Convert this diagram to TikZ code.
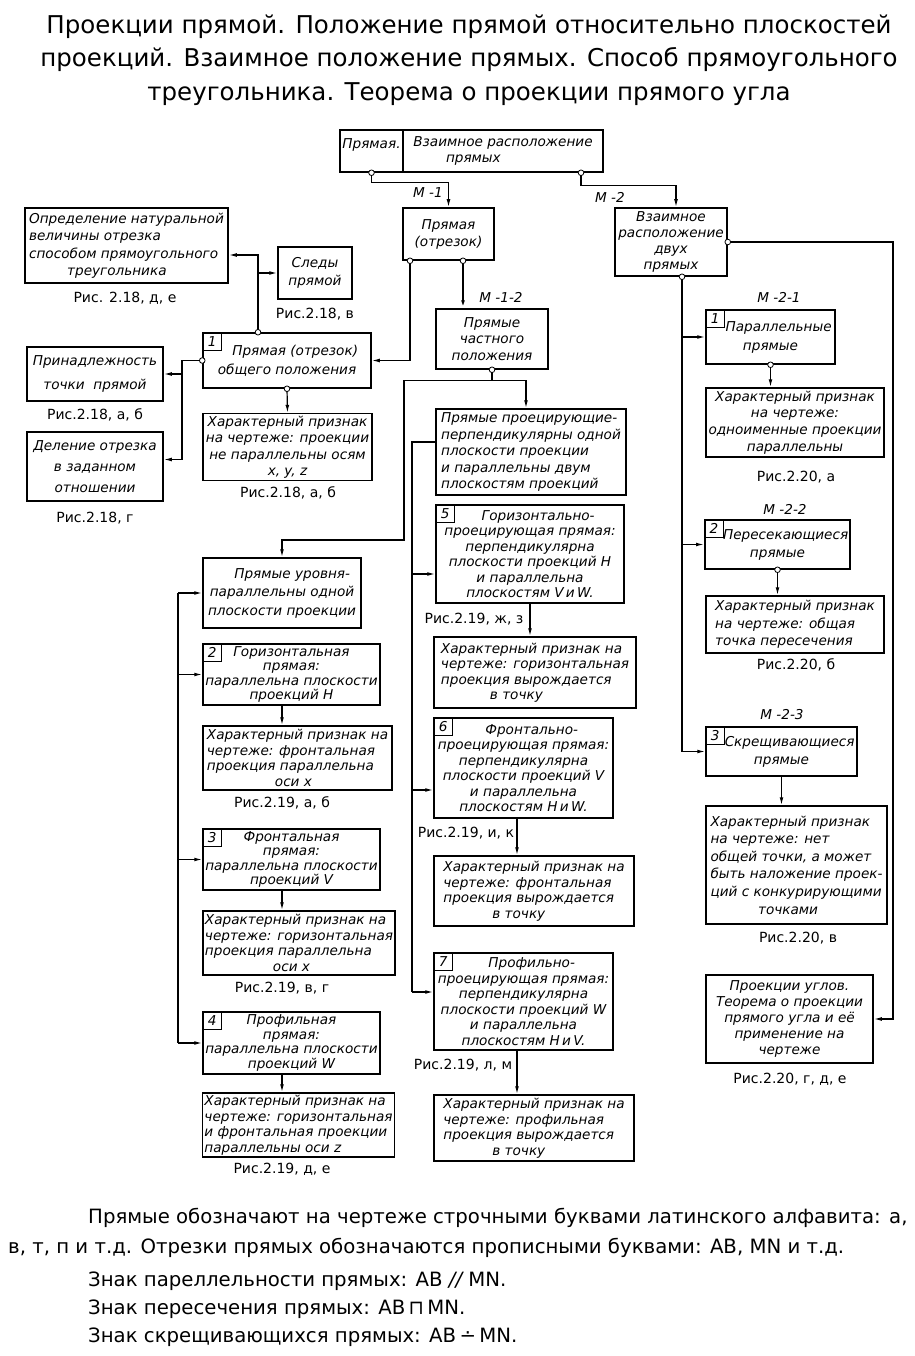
\documentclass[tikz,border=0pt]{standalone}
\usepackage{fontspec}
\setmainfont{DejaVu Sans}
\usetikzlibrary{arrows.meta,positioning,calc}

\newcommand\boxfont{\itshape\fontsize{13.6}{15.5}\selectfont}
\newcommand\capfont{\fontsize{14}{16}\selectfont}

\tikzset{
  blk/.style={draw, line width=1.5pt, inner sep=2pt, font=\boxfont, align=center},
  sz/.style 2 args={minimum width=#1, minimum height=#2},
  ls/.style={font=\itshape\fontsize{13.6}{#1}\selectfont},
  numbox/.style={draw, line width=1pt, anchor=north west, minimum width=19, minimum height=18, inner sep=0pt, font=\boxfont},
  ln/.style={line width=1.2pt},
  arr/.style={ln, -{Latex[length=8pt,width=3.8pt]}},
  capt/.style={font=\capfont},
  mlab/.style={font=\boxfont},
  note/.style={anchor=west, inner sep=0pt, font=\fontsize{19.7}{21}\selectfont},
}

\begin{document}
\begin{tikzpicture}[x=1pt,y=-1pt]
\useasboundingbox (0,0) rectangle (914,1356);
%\draw[very thin,gray,step=50] (0,0) grid (914,1356);
\node[align=center, font=\fontsize{24.5}{33.5}\selectfont] (title) at (469,60)
  {Проекции прямой. Положение прямой относительно плоскостей\\
   проекций. Взаимное положение прямых. Способ прямоугольного\\
   треугольника. Теорема о проекции прямого угла};

% top
\node[blk, sz={63}{42}] (topa) at (371.5,151) {Прямая.\\~};
\node[blk, sz={200}{42}, align=left] (topb) at (503,151) {Взаимное расположение\\\hspace*{2.4em}прямых};
\node[blk, sz={91}{52}, ls=17] (pr) at (448.5,234) {Прямая\\(отрезок)};
\node[blk, sz={112}{68}, ls=16] (vz) at (671,242) {Взаимное\\расположение\\двух\\прямых};
\node[mlab] (lm1) at (428,193) {М -1};
\node[mlab] (lm2) at (610,197) {М -2};

% left part
\node[blk, sz={203}{75}, align=left, ls=17.5] (opr) at (126.5,245.5)
  {Определение натуральной\\величины отрезка\\способом прямоугольного\\\hspace*{2.8em}треугольника};
\node[capt] (capopr) at (125,298) {Рис. 2.18, д, е};
\node[blk, sz={74}{52}, ls=18] (sl) at (315,273) {Следы\\прямой};
\node[capt] (capsl) at (315,314) {Рис.2.18, в};
\node[blk, sz={168}{55}, ls=19] (b1) at (287,360.5) {\hspace*{1.2em}Прямая (отрезок)\\общего положения};
\node[numbox] (n1) at (b1.north west) {1};
\node[blk, sz={169}{62}, ls=16.5] (c1) at (287.5,447) {Характерный признак\\на чертеже: проекции\\не параллельны осям\\x, y, z};
\node[capt] (capc1) at (288,493) {Рис.2.18, а, б};
\node[blk, sz={136}{54}, ls=24] (pn) at (95,374) {Принадлежность\\точки\ \ прямой};
\node[capt] (cappn) at (95,415) {Рис.2.18, а, б};
\node[blk, sz={136}{69}, ls=21] (dl) at (95,466.5) {Деление отрезка\\в заданном\\отношении};
\node[capt] (capdl) at (95,518) {Рис.2.18, г};

% particular positions
\node[blk, sz={112}{60}, ls=16.5] (chp) at (492,339) {Прямые\\частного\\положения};
\node[mlab] (lm12) at (501,297) {М -1-2};
\node[blk, sz={190}{86}, align=left, ls=16.5] (pp) at (531,452)
  {Прямые проецирующие-\\перпендикулярны одной\\плоскости проекции\\и параллельны двум\\плоскостям проекций};
\node[blk, sz={188}{98}] (b5) at (530,554)
  {\hspace*{1.2em}Горизонтально-\\проецирующая прямая:\\перпендикулярна\\плоскости проекций H\\и параллельна\\плоскостям V\,и\,W.};
\node[numbox] (n5) at (b5.north west) {5};
\node[capt] (cap5) at (474,619) {Рис.2.19, ж, з};
\node[blk, sz={202}{71}, align=left] (c5) at (535,672.5)
  {Характерный признак на\\чертеже: горизонтальная\\проекция вырождается\\\hspace*{3.6em}в точку};
\node[blk, sz={179}{100}] (b6) at (523.5,768)
  {\hspace*{1.2em}Фронтально-\\проецирующая прямая:\\перпендикулярна\\плоскости проекций V\\и параллельна\\плоскостям H\,и\,W.};
\node[numbox] (n6) at (b6.north west) {6};
\node[capt] (cap6) at (466,833) {Рис.2.19, и, к};
\node[blk, sz={200}{70}, align=left] (c6) at (534,891)
  {Характерный признак на\\чертеже: фронтальная\\проекция вырождается\\\hspace*{3.6em}в точку};
\node[blk, sz={179}{97}] (b7) at (523.5,1001.5)
  {\hspace*{1.2em}Профильно-\\проецирующая прямая:\\перпендикулярна\\плоскости проекций W\\и параллельна\\плоскостям H\,и\,V.};
\node[numbox] (n7) at (b7.north west) {7};
\node[capt] (cap7) at (463,1065) {Рис.2.19, л, м};
\node[blk, sz={200}{66}, align=left] (c7) at (534,1128)
  {Характерный признак на\\чертеже: профильная\\проекция вырождается\\\hspace*{3.6em}в точку};

% level lines
\node[blk, sz={158}{70}, ls=18.5] (ur) at (282,593) {\hspace*{1.5em}Прямые уровня-\\параллельны одной\\плоскости проекции};
\node[blk, sz={177}{61}, ls=14.5] (b2) at (291.5,674.5) {Горизонтальная\\прямая:\\параллельна плоскости\\проекций H};
\node[numbox] (n2) at (b2.north west) {2};
\node[blk, sz={189}{64}, align=left] (c2) at (297.5,758)
  {Характерный признак на\\чертеже: фронтальная\\проекция параллельна\\\hspace*{5em}оси x};
\node[capt] (capc2) at (282,803) {Рис.2.19, а, б};
\node[blk, sz={177}{61}, ls=14.5] (b3) at (291.5,859.5) {Фронтальная\\прямая:\\параллельна плоскости\\проекций V};
\node[numbox] (n3) at (b3.north west) {3};
\node[blk, sz={192}{64}, align=left] (c3) at (299,943)
  {Характерный признак на\\чертеже: горизонтальная\\проекция параллельна\\\hspace*{5em}оси x};
\node[capt] (capc3) at (282,988) {Рис.2.19, в, г};
\node[blk, sz={177}{62}, ls=14.5] (b4) at (291.5,1043) {Профильная\\прямая:\\параллельна плоскости\\проекций W};
\node[numbox] (n4) at (b4.north west) {4};
\node[blk, sz={191}{64}, align=left] (c4) at (298.5,1125)
  {Характерный признак на\\чертеже: горизонтальная\\и фронтальная проекции\\параллельны оси z};
\node[capt] (capc4) at (282,1169) {Рис.2.19, д, е};

% mutual position
\node[mlab] (lm21) at (779,297) {М -2-1};
\node[blk, sz={129}{54}, ls=19] (rb1) at (770.5,337) {\hspace*{1.2em}Параллельные\\прямые};
\node[numbox] (m1) at (rb1.north west) {1};
\node[blk, sz={178}{69}, ls=16.7] (rc1) at (795,422.5) {Характерный признак\\на чертеже:\\одноименные проекции\\параллельны};
\node[capt] (caprc1) at (796,477) {Рис.2.20, а};
\node[mlab] (lm22) at (785,509) {М -2-2};
\node[blk, sz={143}{49}, ls=18] (rb2) at (777.5,544.5) {\hspace*{1.2em}Пересекающиеся\\прямые};
\node[numbox] (m2) at (rb2.north west) {2};
\node[blk, sz={178}{57}, align=left, ls=17.5] (rc2) at (795,624.5) {Характерный признак\\на чертеже: общая\\точка пересечения};
\node[capt] (caprc2) at (796,665) {Рис.2.20, б};
\node[mlab] (lm23) at (782,715) {М -2-3};
\node[blk, sz={151}{49}, ls=18] (rb3) at (781.5,751.5) {\hspace*{1.2em}Скрещивающиеся\\прямые};
\node[numbox] (m3) at (rb3.north west) {3};
\node[blk, sz={181}{118}, align=left, ls=17.6] (rc3) at (796.5,865)
  {Характерный признак\\на чертеже: нет\\общей точки, а может\\быть наложение проек-\\ций с конкурирующими\\\hspace*{3.5em}точками};
\node[capt] (caprc3) at (798,938) {Рис.2.20, в};
\node[blk, sz={167}{88}, ls=16] (ug) at (789.5,1019) {Проекции углов.\\Теорема о проекции\\прямого угла и её\\применение на\\чертеже};
\node[capt] (capug) at (790,1079) {Рис.2.20, г, д, е};

% connectors
\coordinate (o1) at (topa.south);
\coordinate (o2) at (topb.south -| 581,0);
\coordinate (o3) at (pr.south -| 410,0);
\coordinate (o4) at (pr.south -| 463,0);
\coordinate (o5) at (b1.north -| 258,0);
\coordinate (o6) at (vz.south -| 682,0);
\draw[arr] (o1) -- ++(0,10) -| (pr.north);
\draw[arr] (o2) -- ++(0,13) -| ([xshift=5pt]vz.north);
\draw[arr] (o3) |- (b1.east);
\draw[arr, line width=2.4pt] (o4) -- (chp.north -| o4);
\coordinate (ko) at (258,255);
\draw[arr] (o5) -- (ko) -- (ko -| opr.east);
\draw[arr] (o5) |- (sl.west);
\coordinate (kp) at (182,0);
\coordinate (ad) at ([yshift=7pt]dl.east);
\draw[arr] (b1.west) -| (kp |- pn.east) -- (pn.east);
\draw[arr] (b1.west) -| (kp |- ad) -- (ad);
\draw[arr] (b1.south) -- (c1.north);
\coordinate (kn) at (404,540);
\draw[arr] (chp.south) -- ++(0,11) -| (kn) -| (ur.north);
\draw[arr] (chp.south) -- ++(0,11) -| ([xshift=-5pt]pp.north);

% left bus
\coordinate (lbus) at (178,0);
\draw[ln] (lbus |- ur.west) -- (lbus |- b4.west);
\foreach \n in {ur,b2,b3,b4}
  \draw[arr] (lbus |- \n.west) -- (\n.west);
\foreach \a/\b in {b2/c2,b3/c3,b4/c4}
  \draw[arr] (\a.south -| ur.south) -- (\b.north -| ur.south);

% middle bus
\coordinate (mbus) at (412,0);
\coordinate (a0) at ([yshift=10pt]pp.west);
\coordinate (a5) at ([yshift=-20pt]b5.west);
\coordinate (a6) at ([yshift=-22pt]b6.west);
\coordinate (a7) at ([yshift=9.5pt]b7.west);
\draw[ln] (a0) -- (a0 -| mbus) -- (a7 -| mbus);
\foreach \n in {a5,a6,a7}
  \draw[arr] (\n -| mbus) -- (\n);
\coordinate (k5) at (530,0);
\coordinate (k6) at (517,0);
\draw[arr] (b5.south -| k5) -- (c5.north -| k5);
\draw[arr] (b6.south -| k6) -- (c6.north -| k6);
\draw[arr] (b7.south -| k6) -- (c7.north -| k6);

% right bus
\coordinate (rbus) at (682,0);
\draw[ln] (o6) -- (rbus |- rb3.west);
\foreach \n in {rb1,rb2,rb3}
  \draw[arr] (rbus |- \n.west) -- (\n.west);
\draw[arr] (rb1.south) -- (rb1.south |- rc1.north);
\draw[arr] (rb2.south) -- (rb2.south |- rc2.north);
\draw[arr] (rb3.south) -- (rb3.south |- rc3.north);
\coordinate (rr) at (893,0);
\draw[arr] (vz.east) -| (rr |- ug.east) -- (ug.east);

% open dots
\foreach \p in {o1,o2,o3,o4,o5,o6,b1.west,b1.south,chp.south,vz.east,rb1.south,rb2.south}
  \draw[line width=0.8pt, fill=white] (\p) circle (2.8pt);

% notes
\node[note] (t1) at (88,1218) {Прямые обозначают на чертеже строчными буквами латинского алфавита: а,};
\node[note] (t2) at (8,1248) {в, т, п и т.д. Отрезки прямых обозначаются прописными буквами: AB, MN и т.д.};
\node[note] (t3) at (88,1281) {Знак пареллельности прямых: AB {\itshape//} MN.};
\node[note] (t4) at (88,1309) {Знак пересечения прямых: AB\,⊓\,MN.};
\node[note] (t5) at (88,1337) {Знак скрещивающихся прямых: AB\,∸\,MN.};
\end{tikzpicture}
\end{document}
